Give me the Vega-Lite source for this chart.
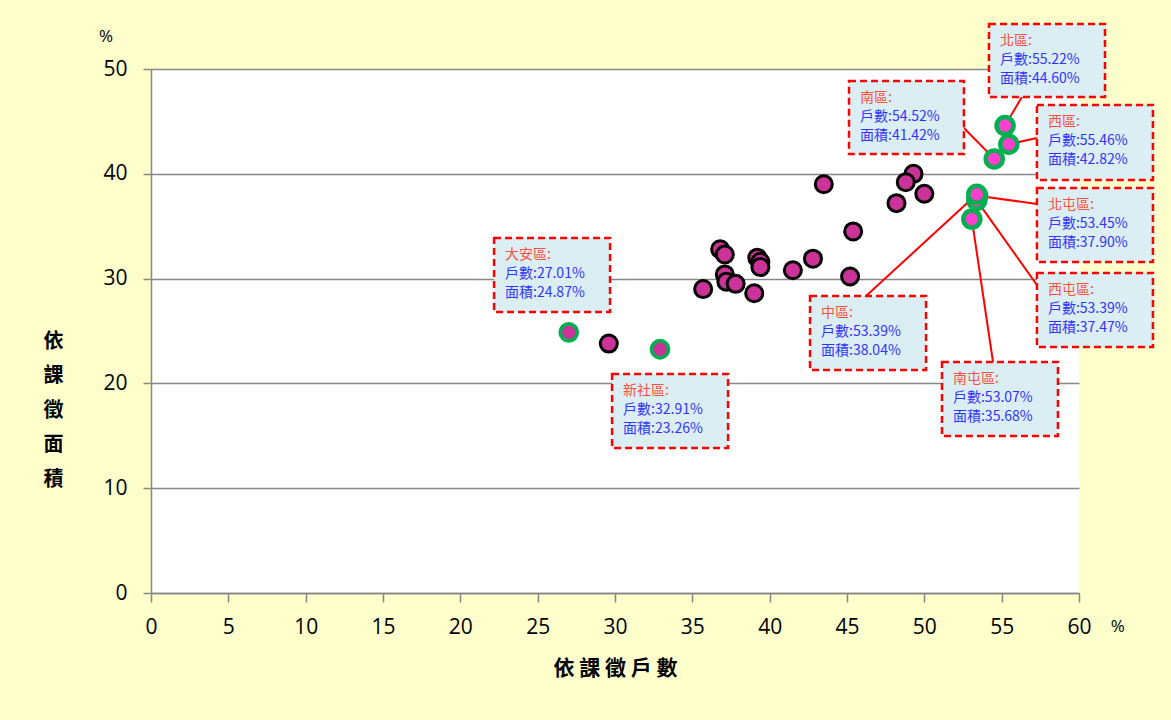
{
  "$schema": "https://vega.github.io/schema/vega-lite/v6.json",
  "autosize": {"type": "none"},
  "width": 928,
  "height": 524,
  "padding": {"left": 151, "top": 69, "right": 92, "bottom": 127},
  "background": "#FFFFCC",
  "config": {
    "view": {"fill": "white", "stroke": null},
    "axis": {
      "domainColor": "#878787", "domainWidth": 1.5,
      "tickColor": "#878787", "tickWidth": 1.5,
      "labelFont": "Open Sans", "labelFontSize": 21, "labelColor": "#000000", "labelFlush": false,
      "titleFont": "Noto Sans CJK TC", "titleFontWeight": "bold", "titleFontSize": 20, "titleColor": "#000000"
    }
  },
  "datasets": {
    "pts": [
      {"x": 29.6, "y": 23.8, "g": "normal"},
      {"x": 35.7, "y": 29.0, "g": "normal"},
      {"x": 36.8, "y": 32.8, "g": "normal"},
      {"x": 37.1, "y": 32.3, "g": "normal"},
      {"x": 37.1, "y": 30.4, "g": "normal"},
      {"x": 37.2, "y": 29.7, "g": "normal"},
      {"x": 37.8, "y": 29.5, "g": "normal"},
      {"x": 39.0, "y": 28.6, "g": "normal"},
      {"x": 39.2, "y": 32.0, "g": "normal"},
      {"x": 39.4, "y": 31.6, "g": "normal"},
      {"x": 39.4, "y": 31.1, "g": "normal"},
      {"x": 41.5, "y": 30.8, "g": "normal"},
      {"x": 42.8, "y": 31.9, "g": "normal"},
      {"x": 43.5, "y": 39.0, "g": "normal"},
      {"x": 45.4, "y": 34.5, "g": "normal"},
      {"x": 45.2, "y": 30.2, "g": "normal"},
      {"x": 49.3, "y": 40.0, "g": "normal"},
      {"x": 48.8, "y": 39.2, "g": "normal"},
      {"x": 50.0, "y": 38.1, "g": "normal"},
      {"x": 48.2, "y": 37.2, "g": "normal"},
      {"x": 27.01, "y": 24.87, "g": "edge"},
      {"x": 32.91, "y": 23.26, "g": "edge"},
      {"x": 55.22, "y": 44.60, "g": "center"},
      {"x": 54.52, "y": 41.42, "g": "center"},
      {"x": 55.46, "y": 42.82, "g": "center"},
      {"x": 53.45, "y": 37.90, "g": "center"},
      {"x": 53.39, "y": 37.47, "g": "center"},
      {"x": 53.39, "y": 38.04, "g": "center"},
      {"x": 53.07, "y": 35.68, "g": "center"}
    ],
    "notes": [
      {"l1": "北區:", "l2": "戶數:55.22%", "l3": "面積:44.60%", "x1": 54.18, "x2": 61.68, "yt": 54.29, "yb": 47.33, "px": 55.22, "py": 44.60, "ax": 56.31, "ay": 47.33},
      {"l1": "南區:", "l2": "戶數:54.52%", "l3": "面積:41.42%", "x1": 45.13, "x2": 52.56, "yt": 48.85, "yb": 41.89, "px": 54.52, "py": 41.42, "ax": 52.56, "ay": 44.37},
      {"l1": "西區:", "l2": "戶數:55.46%", "l3": "面積:42.82%", "x1": 57.28, "x2": 64.78, "yt": 46.56, "yb": 39.41, "px": 55.46, "py": 42.82, "ax": 57.28, "ay": 43.42},
      {"l1": "北屯區:", "l2": "戶數:53.45%", "l3": "面積:37.90%", "x1": 57.28, "x2": 64.78, "yt": 38.65, "yb": 31.58, "px": 53.45, "py": 37.90, "ax": 57.28, "ay": 37.12},
      {"l1": "西屯區:", "l2": "戶數:53.39%", "l3": "面積:37.47%", "x1": 57.28, "x2": 64.78, "yt": 30.53, "yb": 23.47, "px": 53.39, "py": 37.47, "ax": 57.28, "ay": 29.39},
      {"l1": "中區:", "l2": "戶數:53.39%", "l3": "面積:38.04%", "x1": 42.61, "x2": 50.11, "yt": 28.34, "yb": 21.28, "px": 53.39, "py": 38.04, "ax": 46.23, "ay": 28.34},
      {"l1": "南屯區:", "l2": "戶數:53.07%", "l3": "面積:35.68%", "x1": 51.14, "x2": 58.64, "yt": 22.04, "yb": 14.98, "px": 53.07, "py": 35.68, "ax": 54.44, "ay": 22.04},
      {"l1": "大安區:", "l2": "戶數:27.01%", "l3": "面積:24.87%", "x1": 22.18, "x2": 29.68, "yt": 33.87, "yb": 26.81},
      {"l1": "新社區:", "l2": "戶數:32.91%", "l3": "面積:23.26%", "x1": 29.81, "x2": 37.31, "yt": 20.90, "yb": 13.84}
    ],
    "units": [
      {"x": -2.9, "y": 53.1, "t": "%"},
      {"x": 62.5, "y": -3.2, "t": "%"}
    ]
  },
  "layer": [
    {
      "data": {"name": "notes"},
      "transform": [{"filter": "isValid(datum.ax)"}],
      "mark": {"type": "rule", "color": "#FF0000", "strokeWidth": 2},
      "encoding": {
        "x": {"field": "px", "type": "quantitative", "scale": {"domain": [0, 60], "nice": false},
          "axis": {"values": [0,5,10,15,20,25,30,35,40,45,50,55,60], "grid": false, "tickSize": 9, "labelPadding": 14,
            "title": "依 課 徵 戶 數", "titleY": 75, "titleBaseline": "middle", "titleFontSize": 21}},
        "y": {"field": "py", "type": "quantitative", "scale": {"domain": [0, 50], "nice": false},
          "axis": {"values": [0,10,20,30,40,50], "grid": true, "gridColor": "#878787", "gridWidth": 1.5, "tickSize": 8, "labelPadding": 16,
            "title": ["依", "課", "徵", "面", "積"], "titleAngle": 0, "titleAlign": "center", "titleBaseline": "middle",
            "titleX": -98, "titleY": 272, "titleLineHeight": 34.5}},
        "x2": {"field": "ax"},
        "y2": {"field": "ay"}
      }
    },
    {
      "data": {"name": "pts"},
      "mark": {"type": "point", "filled": true, "opacity": 1, "size": 290},
      "encoding": {
        "x": {"field": "x", "type": "quantitative"},
        "y": {"field": "y", "type": "quantitative"},
        "fill": {"field": "g", "type": "nominal", "legend": null,
          "scale": {"domain": ["normal", "edge", "center"], "range": ["#CC3399", "#CC3399", "#FF3FCF"]}},
        "stroke": {"field": "g", "type": "nominal", "legend": null,
          "scale": {"domain": ["normal", "edge", "center"], "range": ["#000000", "#00B050", "#00B050"]}},
        "strokeWidth": {"field": "g", "type": "nominal", "legend": null,
          "scale": {"domain": ["normal", "edge", "center"], "range": [3, 4.5, 4.5]}}
      }
    },
    {
      "data": {"name": "notes"},
      "mark": {"type": "rect", "fill": "#DAEEF3", "stroke": "#FF0000", "strokeWidth": 2.5, "strokeDash": [7, 4]},
      "encoding": {
        "x": {"field": "x1", "type": "quantitative"},
        "x2": {"field": "x2"},
        "y": {"field": "yt", "type": "quantitative"},
        "y2": {"field": "yb"}
      }
    },
    {
      "data": {"name": "notes"},
      "mark": {"type": "text", "align": "left", "baseline": "middle", "dx": 11, "dy": 17, "font": "Noto Sans CJK TC", "fontSize": 14, "color": "#FF5040"},
      "encoding": {
        "x": {"field": "x1", "type": "quantitative"},
        "y": {"field": "yt", "type": "quantitative"},
        "text": {"field": "l1"}
      }
    },
    {
      "data": {"name": "notes"},
      "mark": {"type": "text", "align": "left", "baseline": "middle", "dx": 11, "dy": 36, "font": "Noto Sans CJK TC", "fontSize": 14, "color": "#3333FF"},
      "encoding": {
        "x": {"field": "x1", "type": "quantitative"},
        "y": {"field": "yt", "type": "quantitative"},
        "text": {"field": "l2"}
      }
    },
    {
      "data": {"name": "notes"},
      "mark": {"type": "text", "align": "left", "baseline": "middle", "dx": 11, "dy": 55, "font": "Noto Sans CJK TC", "fontSize": 14, "color": "#3333FF"},
      "encoding": {
        "x": {"field": "x1", "type": "quantitative"},
        "y": {"field": "yt", "type": "quantitative"},
        "text": {"field": "l3"}
      }
    },
    {
      "data": {"name": "units"},
      "mark": {"type": "text", "align": "center", "baseline": "middle", "font": "Open Sans", "fontSize": 17, "color": "#000000"},
      "encoding": {
        "x": {"field": "x", "type": "quantitative"},
        "y": {"field": "y", "type": "quantitative"},
        "text": {"field": "t"}
      }
    }
  ]
}
